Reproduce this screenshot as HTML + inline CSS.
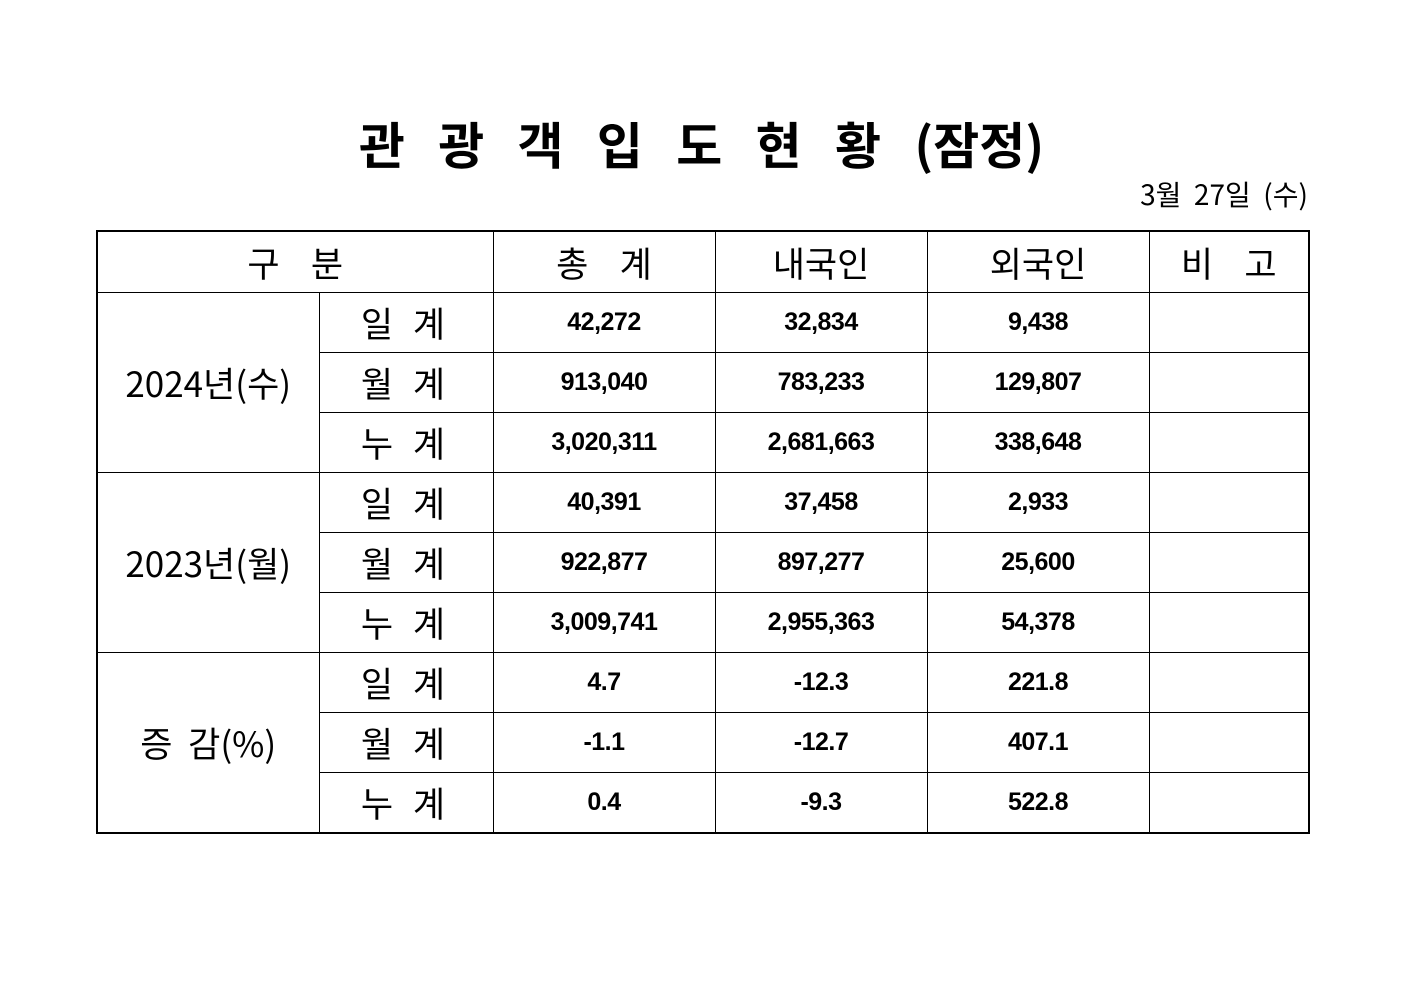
<!DOCTYPE html>
<html><head><meta charset="utf-8">
<style>
body{margin:0;width:1403px;height:992px;background:#fff;position:relative;font-family:"Noto Sans CJK KR","Liberation Sans",sans-serif;color:#000;overflow:hidden}
.title{position:absolute;left:0;width:1403px;top:107px;text-align:center;font-size:50px;font-weight:bold;line-height:72px;white-space:pre}
.title .s{letter-spacing:11px}
.date{position:absolute;right:95px;top:174px;font-size:28px;line-height:40px;white-space:pre}
table{position:absolute;left:96px;top:230px;border-collapse:collapse;border:2px solid #000;table-layout:fixed}
td{border:1px solid #000;padding:0;text-align:center;vertical-align:middle;height:59px}
.h{font-size:35px;white-space:pre}
.l{font-size:35px;letter-spacing:6px}
.y{font-size:35px;white-space:pre;letter-spacing:0px}
.n{font-size:25px;font-weight:bold;font-family:"Liberation Sans","Noto Sans CJK KR",sans-serif;letter-spacing:-0.5px}
</style></head><body>
<div class="title"><span class="s">관 광 객 입 도 현 황 </span>(잠정)</div>
<div class="date">3월  27일  (수)</div>
<table>
<colgroup><col style="width:222px"><col style="width:174px"><col style="width:222px"><col style="width:212px"><col style="width:222px"><col style="width:160px"></colgroup>
<tr><td colspan="2" class="h" style="height:60px">구    분</td><td class="h">총    계</td><td class="h">내국인</td><td class="h">외국인</td><td class="h">비    고</td></tr>
<tr><td rowspan="3" class="y">2024년(수)</td><td class="l">일 계</td><td class="n">42,272</td><td class="n">32,834</td><td class="n">9,438</td><td></td></tr>
<tr><td class="l">월 계</td><td class="n">913,040</td><td class="n">783,233</td><td class="n">129,807</td><td></td></tr>
<tr><td class="l">누 계</td><td class="n">3,020,311</td><td class="n">2,681,663</td><td class="n">338,648</td><td></td></tr>
<tr><td rowspan="3" class="y">2023년(월)</td><td class="l">일 계</td><td class="n">40,391</td><td class="n">37,458</td><td class="n">2,933</td><td></td></tr>
<tr><td class="l">월 계</td><td class="n">922,877</td><td class="n">897,277</td><td class="n">25,600</td><td></td></tr>
<tr><td class="l">누 계</td><td class="n">3,009,741</td><td class="n">2,955,363</td><td class="n">54,378</td><td></td></tr>
<tr><td rowspan="3" class="y">증  감(%)</td><td class="l">일 계</td><td class="n">4.7</td><td class="n">-12.3</td><td class="n">221.8</td><td></td></tr>
<tr><td class="l">월 계</td><td class="n">-1.1</td><td class="n">-12.7</td><td class="n">407.1</td><td></td></tr>
<tr><td class="l">누 계</td><td class="n">0.4</td><td class="n">-9.3</td><td class="n">522.8</td><td></td></tr>
</table>
</body></html>
